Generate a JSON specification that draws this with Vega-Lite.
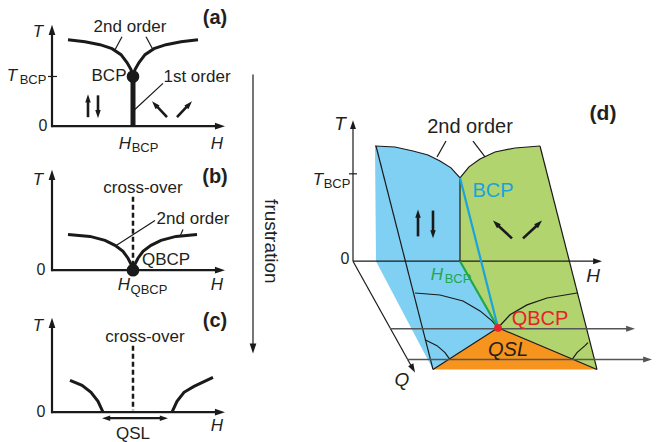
{
  "$schema": "https://vega.github.io/schema/vega-lite/v6.json",
  "width": 659,
  "height": 442,
  "autosize": {"type": "fit", "contains": "padding"},
  "padding": 0,
  "background": "white",
  "config": {"view": {"stroke": null}, "text": {"font": "Liberation Sans"}},
  "encoding": {
    "x": {"field": "x", "type": "quantitative", "scale": {"domain": [0, 659], "nice": false, "zero": false}, "axis": null},
    "y": {"field": "y", "type": "quantitative", "scale": {"domain": [0, 442], "nice": false, "zero": false, "reverse": true}, "axis": null}
  },
  "layer": [
    {
      "data": {"values": [
        {"x": 375, "y": 147}, {"x": 395, "y": 148}, {"x": 413, "y": 152}, {"x": 428, "y": 156}, {"x": 440, "y": 162}, {"x": 451, "y": 169}, {"x": 460, "y": 179},
        {"x": 460, "y": 263}, {"x": 498, "y": 330}, {"x": 433, "y": 372}, {"x": 376, "y": 263}, {"x": 375, "y": 147}
      ]},
      "mark": {"type": "line", "fill": "#80d0f3", "stroke": null, "strokeWidth": 0},
      "encoding": {"order": {"value": null}}
    },
    {
      "data": {"values": [
        {"x": 460, "y": 179}, {"x": 469, "y": 168}, {"x": 480, "y": 160}, {"x": 495, "y": 153}, {"x": 515, "y": 149}, {"x": 540, "y": 147},
        {"x": 597, "y": 372}, {"x": 498, "y": 330}, {"x": 460, "y": 263}, {"x": 460, "y": 179}
      ]},
      "mark": {"type": "line", "fill": "#b2d46f", "stroke": null, "strokeWidth": 0},
      "encoding": {"order": {"value": null}}
    },
    {
      "data": {"values": [
        {"x": 498, "y": 330}, {"x": 433, "y": 372}, {"x": 597, "y": 372}, {"x": 498, "y": 330}
      ]},
      "mark": {"type": "line", "fill": "#f7941d", "stroke": null, "strokeWidth": 0},
      "encoding": {"order": {"value": null}}
    },
    {
      "data": {"values": [
        {"g": "a1", "x": 115, "y": 50}, {"g": "a1", "x": 122, "y": 37},
        {"g": "a2", "x": 153, "y": 50}, {"g": "a2", "x": 146, "y": 37},
        {"g": "a3", "x": 134, "y": 111}, {"g": "a3", "x": 163, "y": 84},
        {"g": "a4", "x": 48, "y": 77}, {"g": "a4", "x": 57, "y": 77},
        {"g": "b1", "x": 115, "y": 248}, {"g": "b1", "x": 155, "y": 222},
        {"g": "b2", "x": 180, "y": 238}, {"g": "b2", "x": 183, "y": 231},
        {"g": "fr", "x": 253, "y": 75}, {"g": "fr", "x": 253, "y": 347},
        {"g": "dt", "x": 349, "y": 175}, {"g": "dt", "x": 357, "y": 175},
        {"g": "dT", "x": 353, "y": 263}, {"g": "dT", "x": 353, "y": 128},
        {"g": "dH", "x": 353, "y": 263}, {"g": "dH", "x": 595, "y": 263},
        {"g": "dQ", "x": 353, "y": 263}, {"g": "dQ", "x": 411, "y": 368},
        {"g": "pl", "x": 376, "y": 147}, {"g": "pl", "x": 433, "y": 372},
        {"g": "pr", "x": 540, "y": 147}, {"g": "pr", "x": 597, "y": 372},
        {"g": "aL", "x": 375, "y": 147}, {"g": "aL", "x": 395, "y": 148}, {"g": "aL", "x": 413, "y": 152}, {"g": "aL", "x": 428, "y": 156}, {"g": "aL", "x": 440, "y": 162}, {"g": "aL", "x": 451, "y": 169}, {"g": "aL", "x": 460, "y": 179},
        {"g": "aR", "x": 460, "y": 179}, {"g": "aR", "x": 469, "y": 168}, {"g": "aR", "x": 480, "y": 160}, {"g": "aR", "x": 495, "y": 153}, {"g": "aR", "x": 515, "y": 149}, {"g": "aR", "x": 540, "y": 147},
        {"g": "dv", "x": 460, "y": 179}, {"g": "dv", "x": 460, "y": 263},
        {"g": "tl", "x": 498, "y": 330}, {"g": "tl", "x": 433, "y": 372},
        {"g": "tr", "x": 498, "y": 330}, {"g": "tr", "x": 597, "y": 372},
        {"g": "lo1", "x": 415, "y": 295}, {"g": "lo1", "x": 440, "y": 297}, {"g": "lo1", "x": 463, "y": 303}, {"g": "lo1", "x": 480, "y": 313}, {"g": "lo1", "x": 492, "y": 323}, {"g": "lo1", "x": 498, "y": 330},
        {"g": "lo2", "x": 498, "y": 330}, {"g": "lo2", "x": 510, "y": 317}, {"g": "lo2", "x": 527, "y": 307}, {"g": "lo2", "x": 547, "y": 300}, {"g": "lo2", "x": 577, "y": 295},
        {"g": "s1", "x": 425, "y": 342}, {"g": "s1", "x": 437, "y": 348}, {"g": "s1", "x": 445, "y": 355}, {"g": "s1", "x": 450, "y": 362},
        {"g": "s2", "x": 572, "y": 362}, {"g": "s2", "x": 577, "y": 355}, {"g": "s2", "x": 585, "y": 348}, {"g": "s2", "x": 588, "y": 345},
        {"g": "l1", "x": 437, "y": 158}, {"g": "l1", "x": 446, "y": 142},
        {"g": "l2", "x": 485, "y": 158}, {"g": "l2", "x": 473, "y": 142}
      ]},
      "mark": {"type": "line", "color": "#1a1a1a", "strokeWidth": 1.2},
      "encoding": {"detail": {"field": "g"}, "order": {"value": null}}
    },
    {
      "data": {"values": [
        {"g": "g1", "x": 390, "y": 331}, {"g": "g1", "x": 628, "y": 331},
        {"g": "g2", "x": 407, "y": 362}, {"g": "g2", "x": 645, "y": 362}
      ]},
      "mark": {"type": "line", "color": "#555555", "strokeWidth": 1.6},
      "encoding": {"detail": {"field": "g"}, "order": {"value": null}}
    },
    {
      "data": {"values": [
        {"g": "aT", "x": 52, "y": 128}, {"g": "aT", "x": 52, "y": 32},
        {"g": "aH", "x": 51, "y": 127}, {"g": "aH", "x": 218, "y": 127},
        {"g": "bT", "x": 52, "y": 273}, {"g": "bT", "x": 52, "y": 178},
        {"g": "bH", "x": 51, "y": 272}, {"g": "bH", "x": 218, "y": 272},
        {"g": "cT", "x": 52, "y": 416}, {"g": "cT", "x": 52, "y": 327},
        {"g": "cH", "x": 51, "y": 415}, {"g": "cH", "x": 218, "y": 415},
        {"g": "cq", "x": 108, "y": 421}, {"g": "cq", "x": 162, "y": 421}
      ]},
      "mark": {"type": "line", "color": "#1a1a1a", "strokeWidth": 2.2},
      "encoding": {"detail": {"field": "g"}, "order": {"value": null}}
    },
    {
      "data": {"values": [
        {"g": "au", "x": 88, "y": 118}, {"g": "au", "x": 88, "y": 101},
        {"g": "ad", "x": 98, "y": 96}, {"g": "ad", "x": 98, "y": 113},
        {"g": "al", "x": 167, "y": 118}, {"g": "al", "x": 156, "y": 106},
        {"g": "ar", "x": 177, "y": 118}, {"g": "ar", "x": 188, "y": 106},
        {"g": "du", "x": 418, "y": 238}, {"g": "du", "x": 418, "y": 218},
        {"g": "dd", "x": 433, "y": 212}, {"g": "dd", "x": 433, "y": 233},
        {"g": "dl", "x": 512, "y": 240}, {"g": "dl", "x": 497, "y": 226},
        {"g": "dr", "x": 523, "y": 240}, {"g": "dr", "x": 538, "y": 226}
      ]},
      "mark": {"type": "line", "color": "#1a1a1a", "strokeWidth": 2.6},
      "encoding": {"detail": {"field": "g"}, "order": {"value": null}}
    },
    {
      "data": {"values": [
        {"g": "acl", "x": 68, "y": 40}, {"g": "acl", "x": 85, "y": 42}, {"g": "acl", "x": 100, "y": 45}, {"g": "acl", "x": 112, "y": 49}, {"g": "acl", "x": 121, "y": 55}, {"g": "acl", "x": 127, "y": 63}, {"g": "acl", "x": 131, "y": 70}, {"g": "acl", "x": 133, "y": 77},
        {"g": "acr", "x": 133, "y": 77}, {"g": "acr", "x": 135, "y": 70}, {"g": "acr", "x": 139, "y": 63}, {"g": "acr", "x": 145, "y": 55}, {"g": "acr", "x": 154, "y": 49}, {"g": "acr", "x": 166, "y": 45}, {"g": "acr", "x": 181, "y": 42}, {"g": "acr", "x": 198, "y": 40},
        {"g": "bcl", "x": 68, "y": 236}, {"g": "bcl", "x": 90, "y": 238}, {"g": "bcl", "x": 105, "y": 242}, {"g": "bcl", "x": 115, "y": 247}, {"g": "bcl", "x": 123, "y": 253}, {"g": "bcl", "x": 128, "y": 260}, {"g": "bcl", "x": 131, "y": 266}, {"g": "bcl", "x": 133, "y": 272},
        {"g": "bcr", "x": 133, "y": 272}, {"g": "bcr", "x": 135, "y": 266}, {"g": "bcr", "x": 138, "y": 260}, {"g": "bcr", "x": 143, "y": 253}, {"g": "bcr", "x": 151, "y": 247}, {"g": "bcr", "x": 161, "y": 242}, {"g": "bcr", "x": 176, "y": 238}, {"g": "bcr", "x": 197, "y": 236},
        {"g": "ccl", "x": 70, "y": 383}, {"g": "ccl", "x": 82, "y": 388}, {"g": "ccl", "x": 91, "y": 395}, {"g": "ccl", "x": 98, "y": 404}, {"g": "ccl", "x": 103, "y": 415},
        {"g": "ccr", "x": 172, "y": 415}, {"g": "ccr", "x": 177, "y": 404}, {"g": "ccr", "x": 184, "y": 395}, {"g": "ccr", "x": 194, "y": 389}, {"g": "ccr", "x": 213, "y": 380}
      ]},
      "mark": {"type": "line", "color": "#1a1a1a", "strokeWidth": 3},
      "encoding": {"detail": {"field": "g"}, "order": {"value": null}}
    },
    {
      "data": {"values": [{"x": 133, "y": 77}, {"x": 133, "y": 127}]},
      "mark": {"type": "line", "color": "#1a1a1a", "strokeWidth": 5},
      "encoding": {"order": {"value": null}}
    },
    {
      "data": {"values": [
        {"g": "b", "x": 133, "y": 198}, {"g": "b", "x": 133, "y": 266},
        {"g": "c", "x": 133, "y": 348}, {"g": "c", "x": 133, "y": 413}
      ]},
      "mark": {"type": "line", "color": "#1a1a1a", "strokeWidth": 2.5, "strokeDash": [5, 3]},
      "encoding": {"detail": {"field": "g"}, "order": {"value": null}}
    },
    {
      "data": {"values": [{"x": 460, "y": 179}, {"x": 498, "y": 330}]},
      "mark": {"type": "line", "color": "#1aa3dc", "strokeWidth": 2.2},
      "encoding": {"order": {"value": null}}
    },
    {
      "data": {"values": [{"x": 460, "y": 263}, {"x": 498, "y": 330}]},
      "mark": {"type": "line", "color": "#1ea84a", "strokeWidth": 2.2},
      "encoding": {"order": {"value": null}}
    },
    {
      "data": {"values": [
        {"x": 52, "y": 25, "a": 0}, {"x": 225, "y": 127, "a": 90},
        {"x": 52, "y": 171, "a": 0}, {"x": 225, "y": 272, "a": 90},
        {"x": 52, "y": 320, "a": 0}, {"x": 225, "y": 415, "a": 90},
        {"x": 253, "y": 356, "a": 180}
      ]},
      "mark": {"type": "point", "shape": "M0,0L0.5,1.5L-0.5,1.5Z", "filled": true, "size": 180, "color": "#1a1a1a", "opacity": 1},
      "encoding": {"angle": {"field": "a", "type": "quantitative", "scale": null}}
    },
    {
      "data": {"values": [
        {"x": 88, "y": 95, "a": 0}, {"x": 98, "y": 119, "a": 180},
        {"x": 152, "y": 102, "a": -43}, {"x": 192, "y": 102, "a": 43},
        {"x": 418, "y": 211, "a": 0}, {"x": 433, "y": 240, "a": 180},
        {"x": 493, "y": 222, "a": -46}, {"x": 542, "y": 222, "a": 46},
        {"x": 102, "y": 421, "a": 270}, {"x": 168, "y": 421, "a": 90}
      ]},
      "mark": {"type": "point", "shape": "M0,0L0.5,1.5L-0.5,1.5Z", "filled": true, "size": 120, "color": "#1a1a1a", "opacity": 1},
      "encoding": {"angle": {"field": "a", "type": "quantitative", "scale": null}}
    },
    {
      "data": {"values": [
        {"x": 353, "y": 121, "a": 0}, {"x": 602, "y": 263, "a": 90}, {"x": 415, "y": 375, "a": 151}
      ]},
      "mark": {"type": "point", "shape": "M0,0L0.5,1.5L-0.5,1.5Z", "filled": true, "size": 140, "color": "#1a1a1a", "opacity": 1},
      "encoding": {"angle": {"field": "a", "type": "quantitative", "scale": null}}
    },
    {
      "data": {"values": [
        {"x": 635, "y": 331, "a": 90}, {"x": 652, "y": 362, "a": 90}
      ]},
      "mark": {"type": "point", "shape": "M0,0L0.5,1.5L-0.5,1.5Z", "filled": true, "size": 140, "color": "#555555", "opacity": 1},
      "encoding": {"angle": {"field": "a", "type": "quantitative", "scale": null}}
    },
    {
      "data": {"values": [{"x": 133, "y": 77}, {"x": 133, "y": 272}]},
      "mark": {"type": "point", "shape": "circle", "filled": true, "size": 160, "color": "#1a1a1a", "opacity": 1}
    },
    {
      "data": {"values": [{"x": 498, "y": 330}]},
      "mark": {"type": "point", "shape": "circle", "filled": true, "size": 60, "color": "#e8202a", "opacity": 1}
    },
    {
      "data": {"values": [
        {"x": 130, "y": 27, "t": "2nd order"},
        {"x": 109, "y": 77, "t": "BCP"},
        {"x": 197, "y": 78, "t": "1st order"},
        {"x": 143, "y": 189, "t": "cross-over"},
        {"x": 193, "y": 220, "t": "2nd order"},
        {"x": 166, "y": 262, "t": "QBCP"},
        {"x": 145, "y": 339, "t": "cross-over"},
        {"x": 133, "y": 437, "t": "QSL"}
      ]},
      "mark": {"type": "text", "fontSize": 17, "align": "center", "baseline": "middle", "color": "#231f20"},
      "encoding": {"text": {"field": "t"}}
    },
    {
      "data": {"values": [
        {"x": 43, "y": 127, "t": "0"}, {"x": 41, "y": 272, "t": "0"}, {"x": 41, "y": 415, "t": "0"}, {"x": 345, "y": 261, "t": "0"}
      ]},
      "mark": {"type": "text", "fontSize": 16, "align": "center", "baseline": "middle", "color": "#231f20"},
      "encoding": {"text": {"field": "t"}}
    },
    {
      "data": {"values": [
        {"x": 38, "y": 32, "t": "T"}, {"x": 217, "y": 145, "t": "H"},
        {"x": 38, "y": 181, "t": "T"}, {"x": 217, "y": 287, "t": "H"},
        {"x": 38, "y": 328, "t": "T"}, {"x": 217, "y": 429, "t": "H"},
        {"x": 12, "y": 77, "t": "T"}, {"x": 125, "y": 145, "t": "H"}, {"x": 124, "y": 287, "t": "H"},
        {"x": 318, "y": 181, "t": "T"}
      ]},
      "mark": {"type": "text", "fontSize": 17, "fontStyle": "italic", "align": "center", "baseline": "middle", "color": "#231f20"},
      "encoding": {"text": {"field": "t"}}
    },
    {
      "data": {"values": [
        {"x": 33, "y": 81, "t": "BCP"}, {"x": 145, "y": 149, "t": "BCP"}, {"x": 149, "y": 292, "t": "QBCP"}, {"x": 337, "y": 185, "t": "BCP"}
      ]},
      "mark": {"type": "text", "fontSize": 13, "align": "center", "baseline": "middle", "color": "#231f20"},
      "encoding": {"text": {"field": "t"}}
    },
    {
      "data": {"values": [
        {"x": 215, "y": 18, "t": "(a)"}, {"x": 215, "y": 178, "t": "(b)"}, {"x": 215, "y": 323, "t": "(c)"}
      ]},
      "mark": {"type": "text", "fontSize": 20, "fontWeight": "bold", "align": "center", "baseline": "middle", "color": "#231f20"},
      "encoding": {"text": {"field": "t"}}
    },
    {
      "data": {"values": [{"x": 603, "y": 115, "t": "(d)"}]},
      "mark": {"type": "text", "fontSize": 21, "fontWeight": "bold", "align": "center", "baseline": "middle", "color": "#231f20"},
      "encoding": {"text": {"field": "t"}}
    },
    {
      "data": {"values": [{"x": 271, "y": 243, "t": "frustration"}]},
      "mark": {"type": "text", "fontSize": 19, "angle": 90, "align": "center", "baseline": "middle", "color": "#231f20"},
      "encoding": {"text": {"field": "t"}}
    },
    {
      "data": {"values": [{"x": 470, "y": 128, "t": "2nd order"}]},
      "mark": {"type": "text", "fontSize": 20, "align": "center", "baseline": "middle", "color": "#231f20"},
      "encoding": {"text": {"field": "t"}}
    },
    {
      "data": {"values": [
        {"x": 340, "y": 125, "t": "T"}, {"x": 593, "y": 278, "t": "H"}, {"x": 402, "y": 383, "t": "Q"}
      ]},
      "mark": {"type": "text", "fontSize": 19, "fontStyle": "italic", "align": "center", "baseline": "middle", "color": "#231f20"},
      "encoding": {"text": {"field": "t"}}
    },
    {
      "data": {"values": [{"x": 508, "y": 352, "t": "QSL"}]},
      "mark": {"type": "text", "fontSize": 20, "fontStyle": "italic", "align": "center", "baseline": "middle", "color": "#231f20"},
      "encoding": {"text": {"field": "t"}}
    },
    {
      "data": {"values": [{"x": 493, "y": 192, "t": "BCP"}]},
      "mark": {"type": "text", "fontSize": 20, "align": "center", "baseline": "middle", "color": "#1aa3dc"},
      "encoding": {"text": {"field": "t"}}
    },
    {
      "data": {"values": [{"x": 540, "y": 321, "t": "QBCP"}]},
      "mark": {"type": "text", "fontSize": 20, "align": "center", "baseline": "middle", "color": "#e8202a"},
      "encoding": {"text": {"field": "t"}}
    },
    {
      "data": {"values": [{"x": 437, "y": 277, "t": "H"}]},
      "mark": {"type": "text", "fontSize": 17, "fontStyle": "italic", "align": "center", "baseline": "middle", "color": "#1ea84a"},
      "encoding": {"text": {"field": "t"}}
    },
    {
      "data": {"values": [{"x": 458, "y": 281, "t": "BCP"}]},
      "mark": {"type": "text", "fontSize": 13, "align": "center", "baseline": "middle", "color": "#1ea84a"},
      "encoding": {"text": {"field": "t"}}
    }
  ]
}
